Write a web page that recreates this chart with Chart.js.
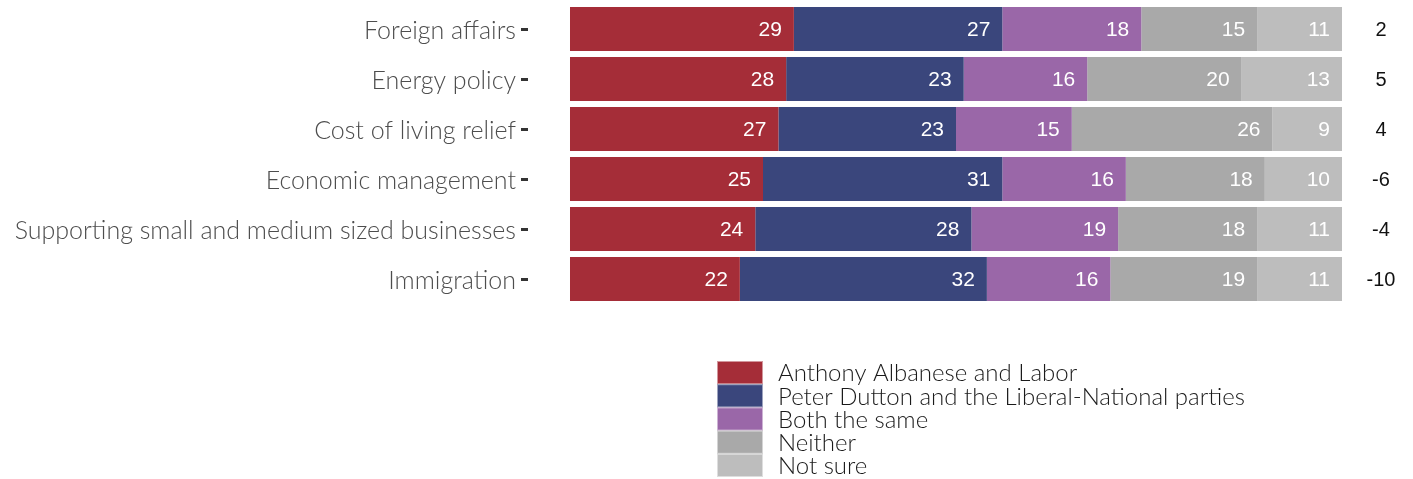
<!DOCTYPE html>
<html>
<head>
<meta charset="utf-8">
<script src="https://cdn.jsdelivr.net/npm/chart.js@4.4.1/dist/chart.umd.min.js"></script>
<style>
  html, body { margin: 0; padding: 0; background: #fff; }
  canvas { display: block; }
</style>
</head>
<body>
<canvas id="issuesChart" width="1413" height="479"></canvas>
<script>
// Вопросы (сверху вниз)
const issues = [
  'Foreign affairs',
  'Energy policy',
  'Cost of living relief',
  'Economic management',
  'Supporting small and medium sized businesses',
  'Immigration'
];

// Ответы, %
const labor   = [29, 28, 27, 25, 24, 22];
const dutton  = [27, 23, 23, 31, 28, 32];
const same    = [18, 16, 15, 16, 19, 16];
const neither = [15, 20, 26, 18, 18, 19];
const notSure = [11, 13, 9, 10, 11, 11];

const seriesNames = [
  'Anthony Albanese and Labor',
  'Peter Dutton and the Liberal-National parties',
  'Both the same',
  'Neither',
  'Not sure'
];
const seriesColors = ['#a52d38', '#3a467c', '#9a67a8', '#a9a9a9', '#bdbdbd'];

// Разница Labor - Coalition, справа от столбцов
const netLead = labor.map((v, i) => v - dutton[i]);

const legendFont = '300 24px Lato, "Open Sans", sans-serif';

// Подписи значений внутри сегментов
const segmentLabels = {
  id: 'segmentLabels',
  afterDatasetsDraw(chart) {
    const ctx = chart.ctx;
    ctx.save();
    ctx.font = '21px "Liberation Sans", Arial, sans-serif';
    ctx.fillStyle = '#ffffff';
    ctx.textAlign = 'right';
    ctx.textBaseline = 'middle';
    chart.data.datasets.forEach((ds, di) => {
      const meta = chart.getDatasetMeta(di);
      meta.data.forEach((bar, i) => {
        ctx.fillText(String(ds.data[i]), bar.x - 12, bar.y + 1);
      });
    });
    ctx.restore();
  }
};

// Колонка с разницей
const netColumn = {
  id: 'netColumn',
  afterDatasetsDraw(chart) {
    const ctx = chart.ctx;
    const yScale = chart.scales.y;
    ctx.save();
    ctx.font = '20px "Liberation Sans", Arial, sans-serif';
    ctx.fillStyle = '#111111';
    ctx.textAlign = 'center';
    ctx.textBaseline = 'middle';
    netLead.forEach((v, i) => {
      ctx.fillText(String(v), chart.chartArea.right + 39, yScale.getPixelForValue(i) + 1);
    });
    ctx.restore();
  }
};

// Легенда под графиком: квадраты друг под другом
const boxLegend = {
  id: 'boxLegend',
  afterDraw(chart) {
    const ctx = chart.ctx;
    const left = 717, top = 361, boxW = 46, boxH = 23.2;
    ctx.save();
    ctx.font = legendFont;
    ctx.textAlign = 'left';
    ctx.textBaseline = 'middle';
    chart.data.datasets.forEach((ds, i) => {
      const y = top + i * boxH;
      ctx.fillStyle = ds.backgroundColor;
      ctx.fillRect(left, y, boxW, boxH);
      ctx.strokeStyle = 'rgba(255,255,255,0.5)';
      ctx.lineWidth = 1;
      ctx.strokeRect(left + 0.5, y + 0.5, boxW - 1, boxH - 1);
      ctx.fillStyle = '#1a1a1a';
      ctx.fillText(ds.label, left + 61, y + boxH / 2 + 1);
    });
    ctx.restore();
  }
};

const seriesData = [labor, dutton, same, neither, notSure];

new Chart(document.getElementById('issuesChart'), {
  type: 'bar',
  data: {
    labels: issues,
    datasets: seriesData.map((d, i) => ({
      label: seriesNames[i],
      data: d,
      backgroundColor: seriesColors[i],
      borderWidth: 0,
      categoryPercentage: 1,
      barPercentage: 0.88
    }))
  },
  options: {
    indexAxis: 'y',
    responsive: false,
    animation: false,
    layout: { padding: { top: 4, bottom: 175, right: 71, left: 0 } },
    plugins: {
      legend: { display: false },
      tooltip: { enabled: false }
    },
    scales: {
      x: {
        stacked: true,
        display: false,
        min: -5.44,
        max: 100
      },
      y: {
        stacked: true,
        afterFit(scale) {
          scale.width = 528;
          scale.paddingTop = 0;
          scale.paddingBottom = 0;
        },
        border: { display: false },
        grid: {
          offset: false,
          drawOnChartArea: false,
          drawTicks: true,
          tickLength: 7,
          tickWidth: 3,
          tickColor: '#333333'
        },
        ticks: {
          padding: 5,
          labelOffset: 2,
          color: '#4d4d4d',
          font: { family: 'Lato, "Open Sans", sans-serif', size: 25, weight: '300' }
        }
      }
    }
  },
  plugins: [segmentLabels, netColumn, boxLegend]
});
</script>
</body>
</html>
